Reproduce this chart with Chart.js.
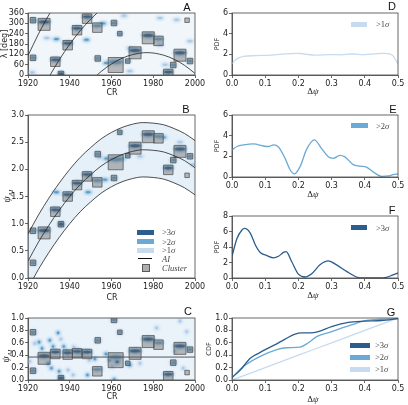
<!DOCTYPE html>
<html><head><meta charset="utf-8">
<script src="https://cdn.jsdelivr.net/npm/chart.js@4"></script>
<style>
body{margin:0;background:#fff;width:408px;height:405px;position:relative;overflow:hidden;font-family:"DejaVu Sans",sans-serif;}
canvas{position:absolute;}
.c{position:absolute;transform:translate(-50%,-50%);white-space:nowrap;color:#222;line-height:1;}
.r{transform:translate(-50%,-50%) rotate(-90deg);}
.lt{font:11px "Liberation Sans",Arial,sans-serif;color:#111;}
.ax{font-size:8px;}
.m{font-family:"Liberation Serif","DejaVu Serif",serif;}
.lg{position:absolute;font:8.5px "Liberation Serif","DejaVu Serif",serif;color:#444;white-space:nowrap;line-height:1;transform:translateY(-50%);}
.bx{position:absolute;}
</style></head><body>
<canvas id="cA"></canvas><canvas id="cB"></canvas><canvas id="cC"></canvas>
<canvas id="cD"></canvas><canvas id="cE"></canvas><canvas id="cF"></canvas><canvas id="cG"></canvas>

<div class="c lt" style="left:187px;top:7px">A</div>
<div class="c lt" style="left:186px;top:109px">B</div>
<div class="c lt" style="left:188px;top:311px">C</div>
<div class="c lt" style="left:392px;top:6px">D</div>
<div class="c lt" style="left:393px;top:109px">E</div>
<div class="c lt" style="left:392px;top:210px">F</div>
<div class="c lt" style="left:391px;top:312px">G</div>

<div class="c ax" style="left:112px;top:93px">CR</div>
<div class="c ax" style="left:112px;top:298px">CR</div>
<div class="c ax" style="left:112px;top:397px">CR</div>
<div class="c ax r" style="left:5px;top:44px">λ [deg]</div>
<div class="c r m" style="left:8px;top:196px;font-size:10px"><i>ψ</i><sub style="font-size:7px"><i>AI</i></sub></div>
<div class="c r m" style="left:7px;top:356px;font-size:10px"><i>ψ</i><sub style="font-size:7px"><i>AI</i></sub></div>
<div class="c r" style="left:217px;top:44px;font-size:6.5px">PDF</div>
<div class="c r" style="left:217px;top:146px;font-size:6.5px">PDF</div>
<div class="c r" style="left:217px;top:247px;font-size:6.5px">PDF</div>
<div class="c r" style="left:209px;top:349px;font-size:6.5px">CDF</div>
<div class="c m" style="left:313px;top:91px;font-size:9px">Δ<i>ψ</i></div>
<div class="c m" style="left:313px;top:194px;font-size:9px">Δ<i>ψ</i></div>
<div class="c m" style="left:313px;top:295px;font-size:9px">Δ<i>ψ</i></div>
<div class="c m" style="left:313px;top:399px;font-size:9px">Δ<i>ψ</i></div>

<!-- legend B -->
<div class="bx" style="left:137px;top:230px;width:17px;height:5px;background:#2b5d8f"></div>
<div class="bx" style="left:137px;top:239px;width:17px;height:5px;background:#6aaad4"></div>
<div class="bx" style="left:137px;top:248px;width:17px;height:5px;background:#c6dbef"></div>
<div class="bx" style="left:138px;top:258px;width:14px;height:1px;background:#111"></div>
<div class="bx" style="left:142px;top:264px;width:6px;height:6px;background:rgba(120,120,120,0.6);border:0.8px solid rgba(70,70,70,0.8)"></div>
<div class="lg" style="left:162px;top:232px">&gt;3<i>σ</i></div>
<div class="lg" style="left:162px;top:242px">&gt;2<i>σ</i></div>
<div class="lg" style="left:162px;top:250px">&gt;1<i>σ</i></div>
<div class="lg" style="left:162px;top:259px"><i>AI</i></div>
<div class="lg" style="left:162px;top:268px"><i>Cluster</i></div>
<!-- legend D,E,F -->
<div class="bx" style="left:351px;top:22px;width:16px;height:5px;background:#c6dbef"></div>
<div class="lg" style="left:376px;top:24px">&gt;1<i>σ</i></div>
<div class="bx" style="left:351px;top:123px;width:17px;height:5px;background:#6aaad4"></div>
<div class="lg" style="left:376px;top:126px">&gt;2<i>σ</i></div>
<div class="bx" style="left:351px;top:225px;width:16px;height:5px;background:#2b5d8f"></div>
<div class="lg" style="left:376px;top:228px">&gt;3<i>σ</i></div>
<!-- legend G -->
<div class="bx" style="left:350px;top:343px;width:20px;height:5px;background:#2b5d8f"></div>
<div class="bx" style="left:350px;top:355px;width:20px;height:5px;background:#6aaad4"></div>
<div class="bx" style="left:350px;top:367px;width:20px;height:5px;background:#c6dbef"></div>
<div class="lg" style="left:375px;top:345px">&gt;3<i>σ</i></div>
<div class="lg" style="left:375px;top:357px">&gt;2<i>σ</i></div>
<div class="lg" style="left:375px;top:369px">&gt;1<i>σ</i></div>

<script>
// ================= DATA =================
const crTicks = [1920, 1940, 1960, 1980, 2000];
const lambdaTicks = [0, 60, 120, 180, 240, 300, 360];

// clusters (same clusters shown in A, B, C)
const clusterCR   = [1922.4,1922.4,1927.7,1933.1,1935.8,1939.0,1943.5,1948.3,1953.2,1953.4,1961.2,1962.0,1964.0,1967.8,1971.3,1977.6,1982.5,1987.2,1989.6,1992.8,1997.6,1996.2];
const clusterClass= [2,2,4,3,2,3,3,3,3,2,2,5,1,1,4,4,3,3,2,4,2,1];   // size class 1..5
const clusterSig  = [2,2,3,3,3,3,3,3,2,2,2,2,2,2,3,3,2,3,2,3,2,0];   // strongest significance inside
const clusterLambda=[318,100,294,77,6,173,260,327,275,96,302,58,240,81,129,216,198,6,58,115,81,318];
const clusterPsi  = [0.87,0.28,0.83,1.22,0.99,1.50,1.71,1.87,1.76,2.28,1.84,2.13,2.68,2.25,2.39,2.60,2.57,1.99,2.17,2.33,2.24,1.89];
const clusterPsiC = [0.77,0.15,0.35,0.42,0.03,0.41,0.43,0.42,0.14,0.64,0.97,0.32,0.77,0.27,0.43,0.62,0.57,0.06,0.28,0.51,0.49,0.12];

// isolated detections
const aExtraCR  = [1933.6,1948.0,1957.6,1955.9,1983.2,1991.2,1997.6,1983.2,1968.8,1968.8,1985.6,1929.0,1922.0,1966.0];
const aExtraLam = [209,205,70,300,331,321,197,176,23,157,60,215,15,345];
const aExtraSig = [2,2,2,2,1,1,1,1,1,1,1,1,1,1];
const bExtraCR  = [1933.6,1948.8,1956.8,1957.6,1954.4,1964.8,1984.8,1999.2,1992.8,1973.6];
const bExtraPsi = [1.58,1.58,1.81,2.20,2.22,2.20,2.59,2.09,2.50,2.24];
const bExtraSig = [2,2,2,2,1,2,2,1,1,1];
const cExtraCR  = [1923.2,1925.3,1926.7,1929.6,1931.2,1930.4,1932.0,1934.4,1935.7,1937.1,1938.4,1941.9,1944.2,1946.1,1949.3,1952.0,1934.9,1939.2,1941.6,1948.5,1957.3,1959.2,1960.3,1961.3,1962.7,1968.8,1973.6,1990.4,1994.4,1920.8,1981.6,1996.0,1992.8];
const cExtraPsi = [0.59,0.61,0.51,0.27,0.19,0.64,0.54,0.76,0.66,0.54,0.46,0.53,0.46,0.43,0.32,0.34,0.14,0.16,0.08,0.08,0.42,0.32,0.22,0.01,0.30,0.24,0.27,0.46,0.19,0.30,0.84,0.78,0.95];
const cExtraSig = [1,2,2,2,2,2,2,2,1,2,2,1,2,2,1,2,2,1,1,2,2,2,1,2,3,2,1,1,1,1,1,1,1];

// AI curve (psi) and band
const aiCR    = [1920,1925,1930,1935,1940,1945,1950,1955,1960,1965,1970,1975,1980,1985,1990,1995,2000];
const aiPsi   = [0.31,0.66,0.97,1.25,1.50,1.72,1.90,2.06,2.18,2.27,2.33,2.36,2.35,2.32,2.25,2.16,2.03];
const aiUpper = [0.81,1.16,1.47,1.75,2.00,2.22,2.40,2.56,2.68,2.77,2.83,2.86,2.85,2.82,2.75,2.66,2.53];
const aiLower = [-0.19,0.16,0.47,0.75,1.00,1.22,1.40,1.56,1.68,1.77,1.83,1.86,1.85,1.82,1.75,1.66,1.53];
// AI curve in longitude (three wraps)
const aiSeg1CR = [1920,1925,1930,1930.6];            const aiSeg1Lam = [112,238,349,360];
const aiSeg2CR = [1930.6,1935,1940,1945,1950,1953.1]; const aiSeg2Lam = [0,89,179,257,324,360];
const aiSeg3CR = [1953.1,1955,1960,1965,1970,1977,1985,1990,1995,2000];
const aiSeg3Lam= [0,20,64,97,118,130,115,91,56,9];
const aiPhaseC = 0.37;

// Right column
const dX  = [0,0.01,0.02,0.035,0.07,0.1,0.12,0.15,0.2,0.22,0.25,0.28,0.3,0.33,0.36,0.4,0.43,0.46,0.475,0.485,0.5];
const dPDF= [1.1,1.45,1.65,1.8,1.87,1.9,1.92,2.02,2.1,2.03,1.92,1.95,1.98,1.95,2.03,1.98,2.05,2.1,2.05,1.85,1.1];
const eX  = [0,0.015,0.035,0.065,0.095,0.11,0.125,0.14,0.16,0.175,0.188,0.205,0.225,0.248,0.27,0.29,0.305,0.325,0.34,0.365,0.385,0.405,0.425,0.45,0.47,0.485,0.5];
const ePDF= [2.6,2.95,3.1,3.2,3.0,2.95,3.1,2.9,1.8,0.7,0.3,1.0,2.7,3.6,2.75,1.95,1.8,2.1,1.95,1.2,1.05,0.95,0.5,0.07,0.1,0.22,0.3];
const fX  = [0,0.015,0.03,0.038,0.055,0.07,0.085,0.105,0.125,0.14,0.155,0.163,0.18,0.2,0.22,0.24,0.265,0.29,0.315,0.345,0.375,0.395,0.445,0.465,0.485,0.5];
const fPDF= [2.8,5.1,6.2,6.4,5.8,4.3,3.3,2.9,2.6,2.8,3.3,3.4,2.1,0.5,0.13,0.55,1.7,2.2,1.7,0.85,0.13,0,0,0.08,0.4,0.65];
const g3X = [0,0.025,0.055,0.08,0.1,0.13,0.16,0.19,0.21,0.235,0.26,0.3,0.35,0.4,0.45,0.5];
const g3  = [0.04,0.16,0.35,0.43,0.49,0.57,0.66,0.74,0.76,0.76,0.78,0.86,0.93,0.95,0.96,0.99];
const g2X = [0,0.035,0.085,0.135,0.165,0.205,0.23,0.255,0.3,0.355,0.405,0.45,0.5];
const g2  = [0.04,0.22,0.38,0.49,0.52,0.53,0.6,0.7,0.78,0.88,0.96,0.98,0.99];
const g1X = [0,0.1,0.2,0.3,0.4,0.5];
const g1  = [0,0.2,0.4,0.6,0.8,1.0];

// ================= STYLE =================
const DARK='#2b5d8f', MED='#6aaad4', LIGHT='#c6dbef';
const SIDE = {1:4.5, 2:5.5, 3:9.5, 4:12, 5:15};
const PAL = {
  1:{halo:'rgba(198,219,239,0.9)', core:'rgba(165,200,230,0.95)'},
  2:{halo:'rgba(150,196,225,0.85)', core:'#5b9bcb'},
  3:{halo:'#6aaad4', core:'#1f4f84'}
};
function ell(g,cx,cy,rx,ry,col){g.fillStyle=col;g.beginPath();g.ellipse(cx,cy,rx,ry,0,0,Math.PI*2);g.fill();}
function clusterImg(level, side){
  const pad=3, W=Math.ceil(side+2*pad), H=W;
  const c=document.createElement('canvas'); c.width=W; c.height=H;
  if(!level) return c;
  const g=c.getContext('2d'), p=PAL[level];
  const small = side<7;
  const cx=W/2, cy= small? H/2 : H/2 - side*0.2;
  const rx= side*0.5, ry = small? side*0.38 : Math.max(1.8, side*0.16);
  g.filter='blur(1px)'; ell(g,cx,cy,rx+1,ry+1,p.halo);
  g.filter='blur(0.4px)'; ell(g,cx,cy,rx*0.85,ry*0.8,p.core);
  return c;
}
function dotImg(level, rx, ry){
  const W=Math.ceil(2*rx+6), H=Math.ceil(2*ry+6);
  const c=document.createElement('canvas'); c.width=W; c.height=H;
  const g=c.getContext('2d'), p=PAL[level];
  g.filter='blur(1px)'; ell(g,W/2,H/2,rx+0.8,ry+0.8,p.halo);
  g.filter='blur(0.4px)'; ell(g,W/2,H/2,rx*0.7,ry*0.7,p.core);
  return c;
}
const clusterImgs = clusterSig.map((s,i)=>clusterImg(s, SIDE[clusterClass[i]]));
const wideDots = {1:dotImg(1,3.5,1.8),2:dotImg(2,3.5,1.8),3:dotImg(3,3.5,1.8)};
const roundDots= {1:dotImg(1,2,2),2:dotImg(2,2,2),3:dotImg(3,2.3,2.3)};

const framePlugin = {
  id:'frame',
  beforeDraw(chart,args,o){ if(o.bg){const a=chart.chartArea,ctx=chart.ctx;ctx.save();ctx.fillStyle=o.bg;ctx.fillRect(a.left,a.top,a.width,a.height);ctx.restore();} },
  afterDraw(chart){ const a=chart.chartArea,ctx=chart.ctx;ctx.save();ctx.strokeStyle='#444';ctx.lineWidth=0.8;ctx.strokeRect(a.left,a.top,a.width,a.height);ctx.restore(); }
};

function axis(min,max,step,fmt){
  return {type:'linear',min,max,
    ticks:{stepSize:step,callback:fmt,font:{family:'DejaVu Sans',size:8},color:'#222',padding:1,maxRotation:0,autoSkip:false},
    grid:{drawOnChartArea:false,tickLength:3,color:'#444',lineWidth:0.8},
    border:{color:'#444',width:0.8}};
}
function mk(id, box, plot, xs, ys, datasets, bg){
  const cv=document.getElementById(id);
  cv.width=box.w; cv.height=box.h; cv.style.left=box.l+'px'; cv.style.top=box.t+'px';
  const yW=plot.l-box.l, xH=box.t+box.h-plot.b;
  xs.afterFit=s=>{s.height=xH;}; ys.afterFit=s=>{s.width=yW;};
  return new Chart(cv,{type:'scatter',data:{datasets},
    options:{responsive:false,animation:false,devicePixelRatio:1,events:[],
      layout:{padding:{left:0,top:plot.t-box.t,right:box.l+box.w-plot.r,bottom:0}},
      plugins:{legend:{display:false},tooltip:{enabled:false},frame:{bg},filler:{drawTime:'beforeDatasetsDraw'}},
      scales:{x:xs,y:ys}},
    plugins:[framePlugin]});
}
const pts=(xs,ys)=>xs.map((x,i)=>({x,y:ys[i]}));
function lineDS(xs,ys,color,w,order,extra){
  return Object.assign({type:'line',data:pts(xs,ys),borderColor:color,borderWidth:w,pointRadius:0,fill:false,
    cubicInterpolationMode:'monotone',clip:0,order},extra||{});
}
function blobDS(xs,ys,imgs,order){
  return {type:'scatter',data:pts(xs,ys),pointStyle:imgs,pointRadius:3,clip:0,order};
}
function squareDS(ys,order){
  return {type:'scatter',data:pts(clusterCR,ys),pointStyle:'rect',
    pointRadius:clusterClass.map(c=>SIDE[c]/Math.SQRT2),
    pointBackgroundColor:'rgba(115,115,115,0.48)',pointBorderColor:'rgba(60,60,60,0.8)',pointBorderWidth:0.8,
    backgroundColor:'rgba(115,115,115,0.48)',borderColor:'rgba(60,60,60,0.8)',clip:0,order};
}
const f0=v=>String(v), f1=v=>Number(v).toFixed(1);

// ---- A ----
mk('cA',{l:0,t:0,w:212,h:100},{l:28,t:13,r:195,b:75},
  axis(1920,2000,20,f0), axis(0,360,60,f0),
  [ blobDS(aExtraCR,aExtraLam,aExtraSig.map(s=>wideDots[s]),6),
    blobDS(clusterCR,clusterLambda,clusterImgs,5),
    squareDS(clusterLambda,4),
    lineDS(aiSeg1CR,aiSeg1Lam,'#222',0.8,1),
    lineDS(aiSeg2CR,aiSeg2Lam,'#222',0.8,1),
    lineDS(aiSeg3CR,aiSeg3Lam,'#222',0.8,1)
  ],'#f1f6fb');

// ---- B ----
mk('cB',{l:0,t:100,w:212,h:205},{l:28,t:115,r:195,b:278},
  axis(1920,2000,20,f0), axis(0,3,0.5,f1),
  [ lineDS(aiCR,aiUpper,'#222',0.8,1,{fill:1,backgroundColor:'rgba(200,222,241,0.45)'}),
    lineDS(aiCR,aiLower,'#222',0.8,1),
    lineDS(aiCR,aiPsi,'#222',0.8,1),
    blobDS(bExtraCR,bExtraPsi,bExtraSig.map(s=>wideDots[s]),6),
    blobDS(clusterCR,clusterPsi,clusterImgs,5),
    squareDS(clusterPsi,4)
  ],null);

// ---- C ----
mk('cC',{l:0,t:305,w:212,h:100},{l:28,t:318,r:195,b:380},
  axis(1920,2000,20,f0), axis(0,1,0.2,f1),
  [ blobDS(cExtraCR,cExtraPsi,cExtraSig.map(s=>roundDots[s]),6),
    blobDS(clusterCR,clusterPsiC,clusterImgs,5),
    squareDS(clusterPsiC,4),
    lineDS([1920,2000],[aiPhaseC,aiPhaseC],'#555',1,1)
  ],'#eaf2fa');

// ---- D ----
mk('cD',{l:205,t:0,w:203,h:100},{l:232,t:13,r:398,b:75},
  axis(0,0.5,0.1,f1), axis(0,6,2,f0),
  [ lineDS(dX,dPDF,LIGHT,1.3,1) ],null);
// ---- E ----
mk('cE',{l:205,t:100,w:203,h:100},{l:232,t:115,r:398,b:177},
  axis(0,0.5,0.1,f1), axis(0,6,2,f0),
  [ lineDS(eX,ePDF,MED,1.3,1) ],null);
// ---- F ----
mk('cF',{l:205,t:200,w:203,h:100},{l:232,t:216,r:398,b:278},
  axis(0,0.5,0.1,f1), axis(0,8,2,f0),
  [ lineDS(fX,fPDF,DARK,1.3,1) ],null);
// ---- G ----
mk('cG',{l:205,t:305,w:203,h:100},{l:232,t:318,r:398,b:380},
  axis(0,0.5,0.1,f1), axis(0,1,0.2,f1),
  [ lineDS(g3X,g3,DARK,1.3,1),
    lineDS(g2X,g2,MED,1.3,2),
    lineDS(g1X,g1,LIGHT,1.3,3) ],null);
</script>
</body></html>
